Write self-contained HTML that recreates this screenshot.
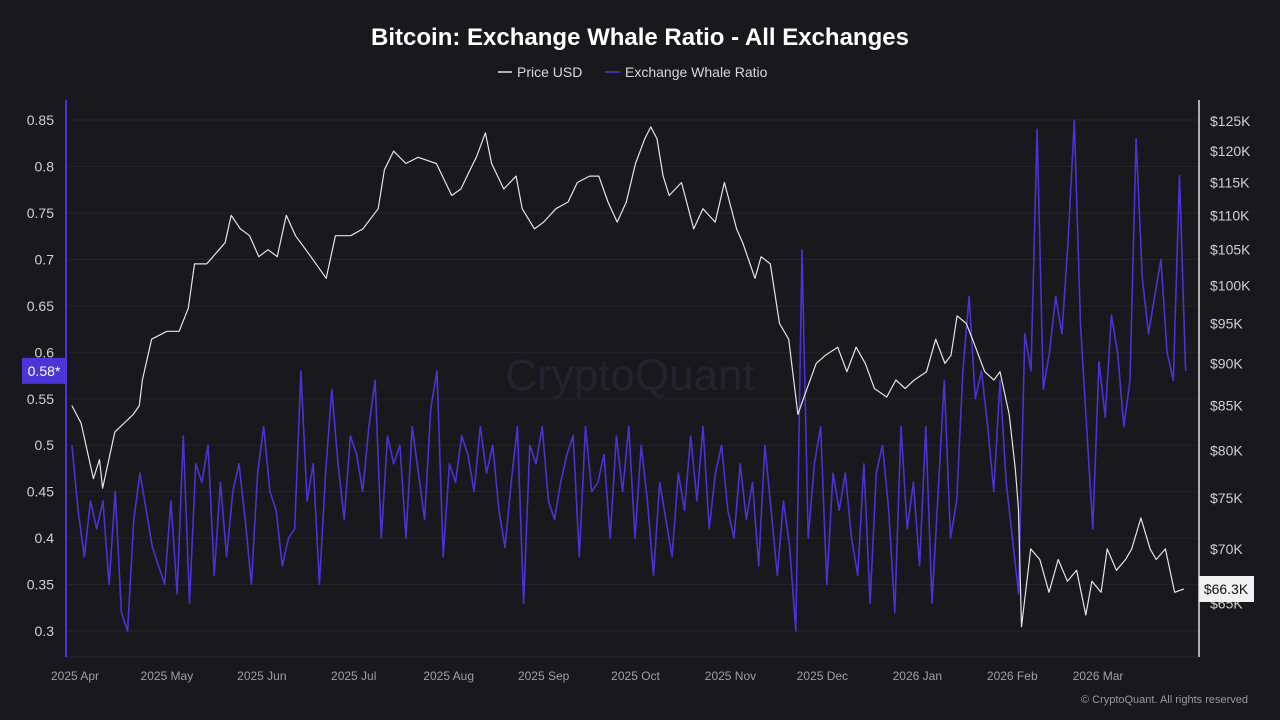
<!DOCTYPE html>
<html><head><meta charset="utf-8"><style>
html,body{margin:0;padding:0;background:#18181d;}
svg{display:block;font-family:"Liberation Sans",sans-serif;}
</style></head><body>
<svg id="chart" width="1280" height="720" viewBox="0 0 1280 720">
<rect width="1280" height="720" fill="#18181d"/>
<text x="640" y="45" text-anchor="middle" fill="#ffffff" font-size="24" font-weight="bold">Bitcoin: Exchange Whale Ratio - All Exchanges</text>
<g>
<line x1="498" y1="72" x2="512" y2="72" stroke="#e6e6e6" stroke-width="1.5"/>
<text x="517" y="77" fill="#d8d8d8" font-size="14">Price USD</text>
<line x1="605" y1="72" x2="620" y2="72" stroke="#4b35d9" stroke-width="1.5"/>
<text x="625" y="77" fill="#d8d8d8" font-size="14">Exchange Whale Ratio</text>
</g>
<text x="630" y="390" text-anchor="middle" fill="#24232f" font-size="44">CryptoQuant</text>
<g id="grid"></g><g id="lax"></g><g id="rax"></g><g id="xax"></g>
<g id="series"></g>
<text x="1248" y="703" text-anchor="end" fill="#9a9a9a" font-size="11">© CryptoQuant. All rights reserved</text>
</svg>
<script>
const leftTicks=[0.3,0.35,0.4,0.45,0.5,0.55,0.6,0.65,0.7,0.75,0.8,0.85];
const rightTicks=[65,70,75,80,85,90,95,100,105,110,115,120,125];
const monthLabels=["2025 Apr","2025 May","2025 Jun","2025 Jul","2025 Aug","2025 Sep","2025 Oct","2025 Nov","2025 Dec","2026 Jan","2026 Feb","2026 Mar"];
const monthDays=[0,30,61,91,122,153,183,214,244,275,306,334];
const priceDays=[-1,2,6,8,9,13,19,21,22,25,30,34,37,39,43,49,51,54,57,60,63,66,69,72,77,82,85,90,94,99,101,104,108,112,118,123,126,129,131,134,136,140,144,146,150,153,157,161,164,168,171,174,177,180,183,186,188,190,192,194,198,202,205,209,212,216,218,222,224,227,230,233,236,238,242,245,249,252,255,258,261,265,268,271,274,278,281,284,286,288,291,293,297,300,302,305,307,308,309,312,315,318,321,324,327,330,332,335,337,340,343,345,348,351,353,356,359,362];
const priceValues=[85,83,77,79,76,82,84,85,88,93,94,94,97,103,103,106,110,108,107,104,105,104,110,107,104,101,107,107,108,111,117,120,118,119,118,113,114,117,119,123,118,114,116,111,108,109,111,112,115,116,116,112,109,112,118,122,124,122,116,113,115,108,111,109,115,108,106,101,104,103,95,93,84,86,90,91,92,89,92,90,87,86,88,87,88,89,93,90,91,96,95,93,89,88,89,84,78,74,63,70,69,66,69,67,68,64,67,66,70,68,69,70,73,70,69,70,66,66.3];
const whaleStartDay=-1, whaleStepDays=2.02;
const whaleValues=[0.50,0.43,0.38,0.44,0.41,0.44,0.35,0.45,0.32,0.30,0.42,0.47,0.43,0.39,0.37,
0.35,0.44,0.34,0.51,0.33,0.48,0.46,0.50,0.36,0.46,0.38,0.45,0.48,0.42,0.35,
0.47,0.52,0.45,0.43,0.37,0.40,0.41,0.58,0.44,0.48,0.35,0.47,0.56,0.48,0.42,
0.51,0.49,0.45,0.52,0.57,0.40,0.51,0.48,0.50,0.40,0.52,0.47,0.42,0.54,0.58,
0.38,0.48,0.46,0.51,0.49,0.45,0.52,0.47,0.50,0.43,0.39,0.46,0.52,0.33,0.50,
0.48,0.52,0.44,0.42,0.46,0.49,0.51,0.38,0.52,0.45,0.46,0.49,0.40,0.51,0.45,
0.52,0.40,0.50,0.44,0.36,0.46,0.42,0.38,0.47,0.43,0.51,0.44,0.52,0.41,0.47,
0.50,0.43,0.40,0.48,0.42,0.46,0.37,0.50,0.43,0.36,0.44,0.39,0.30,0.71,0.40,
0.48,0.52,0.35,0.47,0.43,0.47,0.40,0.36,0.48,0.33,0.47,0.50,0.43,0.32,0.52,
0.41,0.46,0.37,0.52,0.33,0.45,0.57,0.40,0.44,0.58,0.66,0.55,0.58,0.52,0.45,
0.57,0.46,0.40,0.34,0.62,0.58,0.84,0.56,0.60,0.66,0.62,0.72,0.85,0.63,0.52,
0.41,0.59,0.53,0.64,0.60,0.52,0.57,0.83,0.68,0.62,0.66,0.70,0.60,0.57,0.79,0.58];
const ns="http://www.w3.org/2000/svg";
function xS(d){return 75+d*3.063;}
function yL(v){return 631-(v-0.3)*929;}
function yR(k){return 121+Math.log(125/k)*738;}
function mk(tag,attrs,parent){const e=document.createElementNS(ns,tag);for(const k in attrs)e.setAttribute(k,attrs[k]);document.getElementById(parent).appendChild(e);return e;}
leftTicks.forEach(v=>{
 const g=mk("line",{x1:67,x2:1198,y1:yL(v),y2:yL(v),stroke:"#23232a","stroke-width":1},"grid");
 
 
 const t=mk("text",{x:54,y:yL(v)+5,"text-anchor":"end",fill:"#d0d0d0","font-size":14},"lax");
 t.textContent=String(v);
 
 
});
rightTicks.forEach(k=>{
 const t=mk("text",{x:1210,y:yR(k)+5,fill:"#d0d0d0","font-size":14},"rax");
 t.textContent="$"+k+"K";
 
 
});
monthLabels.forEach((m,i)=>{
 const t=mk("text",{x:xS(monthDays[i]),y:680,"text-anchor":"middle",fill:"#a0a0a0","font-size":12},"xax");
 t.textContent=m;
 
 
});
const la=mk("line",{x1:66,x2:66,y1:100,y2:657,stroke:"#4b35d9","stroke-width":2},"lax");


const ra=mk("line",{x1:1199,x2:1199,y1:100,y2:657,stroke:"#e0e0e0","stroke-width":1.5},"rax");


const xa=mk("line",{x1:67,x2:1198,y1:657,y2:657,stroke:"#2a2a32","stroke-width":1},"xax");


let pw=whaleValues.map((v,i)=>xS(whaleStartDay+i*whaleStepDays).toFixed(1)+","+yL(v).toFixed(1)).join(" ");
const wl=mk("polyline",{points:pw,fill:"none",stroke:"#4a33d4","stroke-width":1.6,"stroke-linejoin":"round"},"series");


let pp=priceValues.map((v,i)=>xS(priceDays[i]).toFixed(1)+","+yR(v).toFixed(1)).join(" ");
const pl=mk("polyline",{points:pp,fill:"none",stroke:"#e4e4e4","stroke-width":1.2,"stroke-linejoin":"round"},"series");


const lastW=whaleValues[whaleValues.length-1], lastP=priceValues[priceValues.length-1];
const lb=mk("rect",{x:22,y:yL(lastW)-13,width:44,height:26,fill:"#4b35d9"},"series");


const lt=mk("text",{x:44,y:yL(lastW)+5,"text-anchor":"middle",fill:"#fff","font-size":14},"series");
lt.textContent=lastW.toFixed(2)+"*";


const rb=mk("rect",{x:1199,y:yR(lastP)-13,width:55,height:26,fill:"#f2f2f2"},"series");


const rt=mk("text",{x:1226,y:yR(lastP)+5,"text-anchor":"middle",fill:"#111","font-size":14},"series");
rt.textContent="$"+lastP.toFixed(1)+"K";


</script>
</body></html>
